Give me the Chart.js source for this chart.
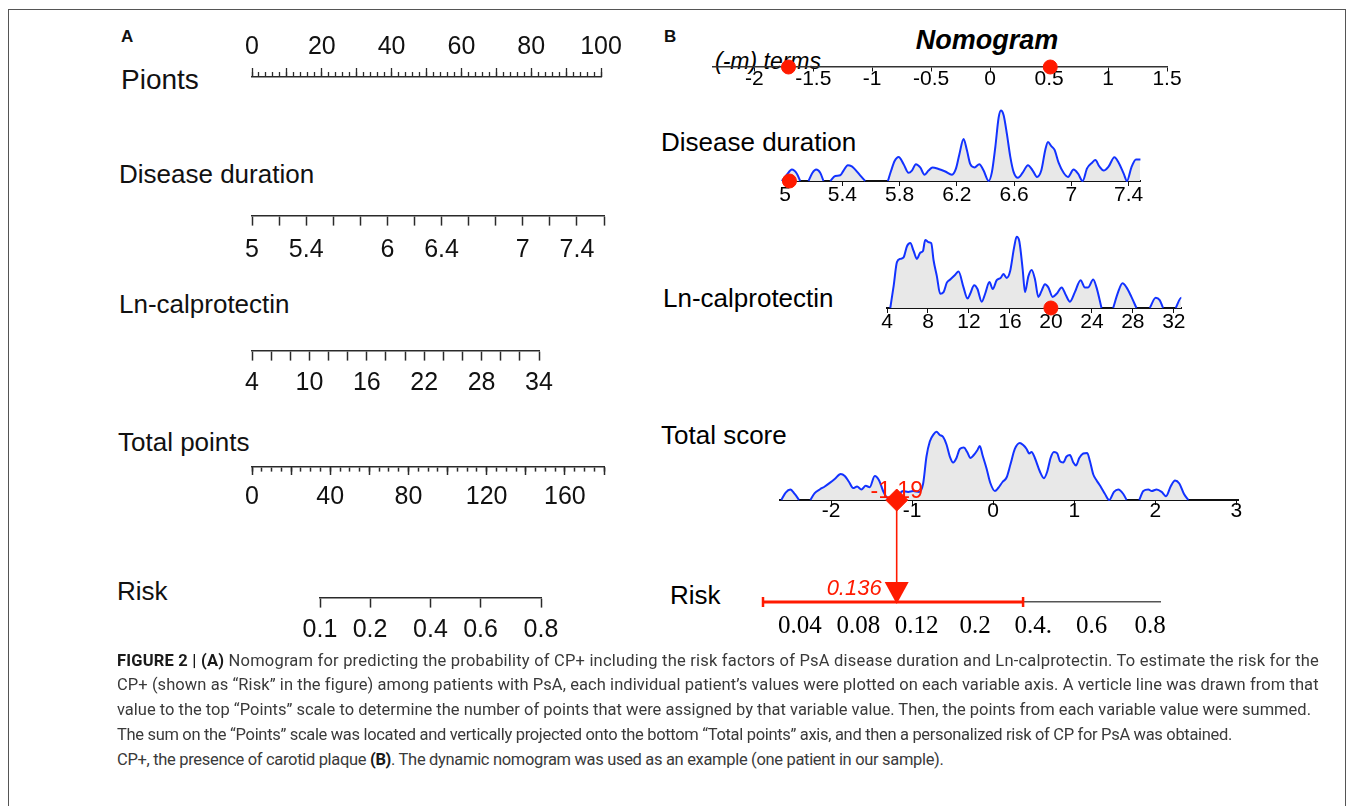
<!DOCTYPE html>
<html>
<head>
<meta charset="utf-8">
<title>Figure 2 - Nomogram</title>
<script src="https://cdn.jsdelivr.net/npm/chart.js@4.4.1/dist/chart.umd.min.js"></script>
<style>
  html, body { margin: 0; padding: 0; background: #fff; }
  body { position: relative; width: 1355px; height: 806px; overflow: hidden;
         font-family: "Liberation Sans", Arial, sans-serif; color: #000; }
  #frame { position: absolute; left: 8px; top: 9px; width: 1338px; height: 900px;
           border: 1px solid #555; box-sizing: border-box; }
  .t { position: absolute; white-space: nowrap; line-height: 1; color: #111; }
  canvas { position: absolute; }
  .cap { position: absolute; left: 117px; white-space: nowrap; line-height: 1;
         font-family: Roboto, "Liberation Sans", sans-serif; font-size: 16.5px; color: #3a3a3a; }
  .cap b { color: #1a1a1a; }
</style>
</head>
<body>
<div id="frame"></div>
<script>
// ---------- values ----------

// Panel A - classic nomogram scales
const pointsRange = [0, 100];
const durRangeA = [5, 7.6];
const durLabelsA = [5, 5.4, 6, 6.4, 7, 7.4];
const calRangeA = [4, 34];
const calLabelsA = [4, 10, 16, 22, 28, 34];
const totalRangeA = [0, 180];
const totalLabelsA = [0, 40, 80, 120, 160];
const riskTicksA = [0.1, 0.2, 0.4, 0.6, 0.8];

// Panel B - dynamic nomogram
const termRange = [-2.35, 1.5];
const termTicks = [-2, -1.5, -1, -0.5, 0, 0.5, 1, 1.5];
const patientTerms = [-1.71, 0.51];

const durRangeB = [4.985, 7.48];
const durTicksB = [5, 5.4, 5.8, 6.2, 6.6, 7, 7.4];
const durDensity = [
  [4.977,0],[5.012,0.067],[5.047,0.12],[5.082,0.077],[5.105,0],[5.134,null],
  [5.163,0],[5.191,0.087],[5.217,0.12],[5.245,0.087],[5.268,0],[5.29,null],
  [5.315,0],[5.35,0.053],[5.385,0.06],[5.408,0.11],[5.438,0.167],[5.466,0.153],[5.49,0.12],[5.524,0.06],[5.559,0],[5.64,null],
  [5.718,0],[5.741,0.11],[5.765,0.21],[5.793,0.253],[5.828,0.177],[5.862,0.087],[5.886,0.11],[5.914,0.177],[5.944,0.143],[5.974,0.067],
  [6.002,0.11],[6.03,0.143],[6.072,0.127],[6.119,0.10],[6.166,0.067],[6.193,0.127],[6.217,0.277],[6.247,0.443],[6.27,0.327],[6.294,0.177],
  [6.324,0.143],[6.357,0.177],[6.387,0.11],[6.422,0],[6.445,0.093],[6.469,0.36],[6.492,0.667],[6.508,0.743],[6.527,0.693],[6.55,0.493],
  [6.573,0.26],[6.597,0.093],[6.627,0.033],[6.66,0.087],[6.697,0.167],[6.73,0.11],[6.76,0.043],[6.79,0.11],[6.818,0.327],[6.837,0.41],
  [6.86,0.367],[6.883,0.327],[6.911,0.193],[6.946,0.087],[6.977,0.043],[7.016,0.12],[7.047,0.077],[7.079,0],[7.11,0.133],[7.145,0.193],
  [7.168,0.22],[7.196,0.153],[7.226,0.11],[7.261,0.153],[7.301,0.25],[7.331,0.193],[7.366,0.077],[7.389,0],[7.42,0.143],[7.452,0.227],
  [7.483,0.227],[7.513,0.093],[7.541,0]
];

const calRangeB = [4, 32.7];
const calTicksB = [4, 8, 12, 16, 20, 24, 28, 32];
const calDensity = [
  [4.32,0],[4.65,0.233],[4.97,0.483],[5.30,0.517],[5.62,0.533],[5.95,0.65],[6.27,0.683],[6.60,0.60],[6.92,0.517],[7.25,0.583],
  [7.51,0.60],[7.73,0.717],[8.06,0.693],[8.32,0.683],[8.55,0.50],[8.87,0.333],[9.19,0.15],[9.52,0.167],[9.84,0.267],[10.17,0.30],
  [10.66,0.35],[10.98,0.383],[11.47,0.217],[11.86,0.10],[12.12,0.15],[12.51,0.24],[12.83,0.20],[13.25,0.067],[13.58,0.15],[14.00,0.273],
  [14.32,0.20],[14.71,0.293],[15.10,0.317],[15.36,0.357],[15.69,0.317],[16.01,0.383],[16.40,0.633],[16.66,0.75],[16.92,0.70],[17.25,0.40],
  [17.47,0.167],[17.80,0.333],[18.12,0.40],[18.45,0.30],[18.77,0.117],[19.10,0.183],[19.42,0.25],[19.75,0.217],[20.17,0.117],[20.56,0.15],
  [21.05,0.217],[21.47,0.133],[21.86,0.067],[22.34,0.167],[22.90,0.293],[23.32,0.217],[23.64,0.217],[24.13,0.30],[24.45,0.217],[24.94,0],
  [25.5,null],[26.08,0],[26.56,0.167],[26.99,0.26],[27.38,0.217],[27.86,0.117],[28.35,0],[29.0,null],
  [29.65,0],[30.23,0.107],[30.62,0.083],[30.95,0],[31.6,null],[32.18,0],[32.73,0.107],[33.16,0.067],[33.55,0]
];

const scoreRange = [-2.63, 3.02];
const scoreTicks = [-2, -1, 0, 1, 2, 3];
const scoreDensity = [
  [-2.613,0],[-2.56,0.083],[-2.502,0.117],[-2.449,0.067],[-2.395,0],[-2.33,null],
  [-2.255,0],[-2.202,0.077],[-2.14,0.117],[-2.078,0.15],[-2.016,0.19],[-1.955,0.233],[-1.881,0.29],[-1.831,0.267],[-1.778,0.2],[-1.728,0.133],
  [-1.679,0.15],[-1.626,0.117],[-1.572,0.157],[-1.523,0.143],[-1.461,0.267],[-1.407,0.217],[-1.358,0.1],[-1.317,0.033],[-1.267,0.01],[-1.214,0.017],
  [-1.16,0.067],[-1.111,0.1],[-1.049,0.09],[-0.988,0.1],[-0.914,0.09],[-0.864,0.183],[-0.823,0.483],[-0.782,0.65],[-0.733,0.733],[-0.70,0.757],
  [-0.658,0.723],[-0.617,0.70],[-0.576,0.617],[-0.535,0.483],[-0.494,0.417],[-0.453,0.467],[-0.412,0.567],[-0.362,0.583],[-0.321,0.533],[-0.28,0.467],
  [-0.239,0.50],[-0.198,0.55],[-0.165,0.60],[-0.132,0.50],[-0.082,0.35],[-0.033,0.183],[0.021,0.10],[0.062,0.133],[0.115,0.20],[0.165,0.25],
  [0.214,0.40],[0.267,0.567],[0.329,0.633],[0.37,0.61],[0.412,0.567],[0.444,0.517],[0.473,0.533],[0.514,0.467],[0.576,0.317],[0.626,0.243],
  [0.667,0.317],[0.708,0.467],[0.749,0.533],[0.79,0.517],[0.823,0.433],[0.864,0.417],[0.905,0.483],[0.947,0.50],[0.988,0.417],[1.021,0.383],
  [1.062,0.467],[1.111,0.517],[1.16,0.523],[1.193,0.433],[1.235,0.283],[1.276,0.217],[1.325,0.15],[1.379,0.067],[1.432,0],[1.49,0.09],
  [1.543,0.117],[1.605,0.067],[1.646,0],[1.72,null],
  [1.802,0],[1.852,0.10],[1.914,0.117],[1.955,0.10],[2.016,0.117],[2.078,0.09],[2.132,0.043],[2.189,0.15],[2.243,0.217],[2.296,0.183],
  [2.354,0.067],[2.407,0]
];

const patientDur = 5.03;
const patientCal = 20;
const patientScore = -1.19;
const patientRisk = 0.136;

const riskRangeB = [-2.84, 2.06];          // total-score units
const riskBand = [-2.84, 0.37];
const riskLabelsB = ['0.04', '0.08', '0.12', '0.2', '0.4.', '0.6', '0.8'];
const riskLabelSpan = [-0.634, 6.171];     // label slots 0..6

// ---------- styling ----------
const SANS = '"Liberation Sans", Arial, sans-serif';
const SERIF = '"Liberation Serif", "Times New Roman", serif';
const INK = '#2a2a2a';
const RED = '#ff1a00';
const BLUE = '#1232ff';
const FILL = '#e8e8e8';
Chart.defaults.font.family = SANS;
Chart.defaults.color = '#111';

const PAD = 48;
const logit = p => Math.log(p / (1 - p));
const has = (arr, v) => arr.some(a => Math.abs(a - v) < 1e-6);

function label(str, x, cy, size, extra) {
  const d = document.createElement('div');
  d.className = 't';
  d.textContent = str;
  d.style.left = x + 'px';
  d.style.top = (cy - size * 0.5) + 'px';
  d.style.fontSize = size + 'px';
  if (extra) Object.assign(d.style, extra);
  document.body.appendChild(d);
  return d;
}

// one canvas per nomogram line; plot area spans exactly the axis
function row(o) {
  const cv = document.createElement('canvas');
  cv.width = Math.round(o.x1 - o.x0) + 2 * PAD;
  cv.height = o.above + o.below;
  cv.style.left = Math.round(o.x0 - PAD) + 'px';
  cv.style.top = (o.base - o.above) + 'px';
  document.body.appendChild(cv);
  return new Chart(cv, {
    type: 'scatter',
    data: { datasets: o.datasets || [] },
    options: {
      responsive: false,
      animation: false,
      events: [],
      layout: { padding: { left: PAD, right: PAD, top: o.above - o.area, bottom: o.below } },
      plugins: { legend: { display: false }, tooltip: { enabled: false } },
      scales: Object.assign({ y: { display: false, min: 0, max: o.ymax || 1 } }, o.scales)
    },
    plugins: o.plugins || []
  });
}

function axisA(range, step, labels, tickLen, pad) {
  return {
    type: 'linear', axis: 'x', position: { y: 0 }, bounds: 'data',
    min: range[0], max: range[1],
    border: { display: true, color: INK, width: 1.6 },
    grid: { drawOnChartArea: false, drawTicks: true, tickLength: tickLen, tickColor: INK, tickWidth: 1.5 },
    ticks: {
      stepSize: step, autoSkip: false, maxRotation: 0, padding: pad,
      font: { size: 25 }, color: '#111',
      callback: v => has(labels, v) ? String(v) : ''
    }
  };
}

// bare tick marks hanging down from a given height (in tick-length units)
function tickLine(range, step, at, len) {
  return {
    type: 'linear', axis: 'x', position: { y: at }, bounds: 'data',
    min: range[0], max: range[1],
    border: { display: false },
    grid: { drawOnChartArea: false, drawTicks: true, tickLength: len, tickColor: INK, tickWidth: 1.3 },
    ticks: { display: false, stepSize: step }
  };
}

function axisB(range, ticks, pad) {
  return {
    type: 'linear', axis: 'x', position: { y: 0 }, bounds: 'data',
    min: range[0], max: range[1],
    afterBuildTicks: s => { s.ticks = ticks.map(v => ({ value: v })); },
    border: { display: true, color: '#111', width: 2 },
    grid: { drawOnChartArea: false, drawTicks: true, tickLength: 4, tickColor: '#111', tickWidth: 1 },
    ticks: { autoSkip: false, maxRotation: 0, padding: pad, font: { size: 21 }, color: '#000',
             callback: v => String(v) }
  };
}

function density(pairs) {
  return {
    data: pairs.map(p => ({ x: p[0], y: p[1] })),
    showLine: true, spanGaps: false,
    borderColor: BLUE, borderWidth: 2,
    backgroundColor: FILL, fill: 'origin',
    pointRadius: 0, cubicInterpolationMode: 'monotone',
    clip: false, order: 2
  };
}

function dot(values, style, radius) {
  return {
    data: values.map(v => ({ x: v, y: 0 })),
    pointStyle: style, pointRadius: radius,
    backgroundColor: RED, borderColor: RED, borderWidth: 1,
    clip: false, order: 1
  };
}

// ---------- frame texts ----------
label('A', 121, 36, 17, { fontWeight: 'bold' });
label('Pionts', 121, 80, 28);
label('Disease duration', 119, 174, 26);
label('Ln-calprotectin', 119, 304, 26);
label('Total points', 118, 442, 26);
label('Risk', 117, 591, 26);

label('B', 664, 36, 17, { fontWeight: 'bold' });
const ttl = label('Nomogram', 0, 40, 27, { fontWeight: 'bold', fontStyle: 'italic', color: '#000' });
ttl.style.left = (987 - ttl.getBoundingClientRect().width / 2) + 'px';
label('(-m) terms', 715, 61, 23, { fontStyle: 'italic', color: '#000' });
label('Disease duration', 661, 142, 26, { color: '#000' });
label('Ln-calprotectin', 663, 298, 26, { color: '#000' });
label('Total score', 661, 435, 26, { color: '#000' });
label('Risk', 670, 595, 26, { color: '#000' });

// ---------- panel A ----------
// Points: numbers above, tick line below
row({ x0: 252, x1: 601, base: 32, area: 4, above: 6, below: 34,
  scales: { x: {
    type: 'linear', axis: 'x', position: { y: 0 }, bounds: 'data',
    min: pointsRange[0], max: pointsRange[1],
    border: { display: false },
    grid: { drawOnChartArea: false, drawTicks: false },
    ticks: { stepSize: 20, autoSkip: false, maxRotation: 0, padding: 0, font: { size: 25 }, color: '#111' }
  } } });

row({ x0: 252, x1: 601, base: 77, area: 9, ymax: 9, above: 11, below: 4,
  scales: {
    x: {
      type: 'linear', axis: 'x', position: { y: 0 }, bounds: 'data',
      min: pointsRange[0], max: pointsRange[1],
      border: { display: true, color: INK, width: 1.6 },
      grid: { drawOnChartArea: false, drawTicks: false },
      ticks: { display: false }
    },
    xMaj: tickLine(pointsRange, 10, 9, 9),
    xMin: tickLine(pointsRange, 2, 5, 5)
  } });

row({ x0: 252, x1: 604, base: 216, area: 4, above: 6, below: 56,
  scales: { x: axisA(durRangeA, 0.2, durLabelsA, 9, 10) } });

row({ x0: 252, x1: 539, base: 351, area: 4, above: 6, below: 56,
  scales: { x: axisA(calRangeA, 2, calLabelsA, 9, 8) } });

const totalMinor = axisA(totalRangeA, 5, [], 4, 0);
totalMinor.ticks.display = false;
const totalMajor = axisA(totalRangeA, 20, totalLabelsA, 8, 7);
totalMajor.border = { display: false };
row({ x0: 252, x1: 604, base: 467, area: 4, above: 6, below: 56,
  scales: { x: totalMinor, xMaj: totalMajor } });

const riskA = axisA([logit(riskTicksA[0]), logit(riskTicksA[riskTicksA.length - 1])], 1, [], 9, 8);
riskA.afterBuildTicks = s => { s.ticks = riskTicksA.map(p => ({ value: logit(p) })); };
riskA.ticks.callback = (v, i) => String(riskTicksA[i]);
row({ x0: 320, x1: 541, base: 598, area: 4, above: 6, below: 56, scales: { x: riskA } });

// ---------- panel B ----------
const termAxis = axisB(termRange, termTicks, -4);
termAxis.border = { display: true, color: '#333', width: 1.5 };
row({ x0: 713, x1: 1167, base: 67, area: 6, above: 14, below: 34,
  scales: { x: termAxis },
  datasets: [dot(patientTerms, 'circle', 7)] });

row({ x0: 783, x1: 1140, base: 181, area: 80, ymax: 0.8, above: 84, below: 34,
  scales: { x: axisB(durRangeB, durTicksB, -2) },
  datasets: [dot([patientDur], 'circle', 7), density(durDensity)] });

row({ x0: 887, x1: 1181, base: 308, area: 80, ymax: 0.8, above: 84, below: 34,
  scales: { x: axisB(calRangeB, calTicksB, -2) },
  datasets: [dot([patientCal], 'circle', 7), density(calDensity)] });

const scoreTag = {
  id: 'scoreTag',
  afterDatasetsDraw(c) {
    const { ctx, scales, chartArea } = c;
    const x = scales.x.getPixelForValue(patientScore);
    ctx.save();
    ctx.fillStyle = RED;
    ctx.font = '23px ' + SANS;
    ctx.textAlign = 'center';
    ctx.textBaseline = 'middle';
    ctx.fillText(patientScore.toFixed(2), x, chartArea.bottom - 8);
    ctx.restore();
  }
};
row({ x0: 780, x1: 1238, base: 500, area: 80, ymax: 0.8, above: 84, below: 34,
  scales: { x: axisB(scoreRange, scoreTicks, -5) },
  datasets: [dot([patientScore], 'rectRot', 11), density(scoreDensity)],
  plugins: [scoreTag] });

const riskArrow = {
  id: 'riskArrow',
  afterDatasetsDraw(c) {
    const { ctx, scales, chartArea } = c;
    const x = scales.x.getPixelForValue(patientScore);
    const yb = chartArea.bottom;
    ctx.save();
    ctx.strokeStyle = RED;
    ctx.fillStyle = RED;
    ctx.lineWidth = 1.6;
    ctx.beginPath();
    ctx.moveTo(x, chartArea.top);
    ctx.lineTo(x, yb - 18);
    ctx.stroke();
    ctx.beginPath();
    ctx.moveTo(x - 12, yb - 20);
    ctx.lineTo(x + 12, yb - 20);
    ctx.lineTo(x, yb + 2);
    ctx.closePath();
    ctx.fill();
    ctx.font = 'italic 22px ' + SANS;
    ctx.textAlign = 'right';
    ctx.textBaseline = 'middle';
    ctx.fillText(String(patientRisk), x - 15, yb - 13);
    ctx.restore();
  }
};
row({ x0: 763, x1: 1160, base: 602, area: 102, above: 104, below: 44,
  scales: {
    x: { type: 'linear', display: false, bounds: 'data', min: riskRangeB[0], max: riskRangeB[1] },
    lab: {
      type: 'linear', axis: 'x', position: { y: 0 }, bounds: 'data',
      min: riskLabelSpan[0], max: riskLabelSpan[1],
      afterBuildTicks: s => { s.ticks = riskLabelsB.map((_, i) => ({ value: i })); },
      border: { display: true, color: '#555', width: 1.5 },
      grid: { drawOnChartArea: false, drawTicks: false },
      ticks: { autoSkip: false, maxRotation: 0, padding: 9, color: '#000',
               font: { family: SERIF, size: 25 }, callback: (v, i) => riskLabelsB[i] }
    }
  },
  datasets: [{
    data: riskBand.map(v => ({ x: v, y: 0 })),
    showLine: true, borderColor: RED, borderWidth: 3,
    pointStyle: 'line', pointRotation: 90, pointRadius: 5,
    pointBorderColor: RED, pointBorderWidth: 2.5, clip: false
  }],
  plugins: [riskArrow] });

// ---------- caption ----------
const capLines = [
  '<b>FIGURE 2 | (A)</b> Nomogram for predicting the probability of CP+ including the risk factors of PsA disease duration and Ln-calprotectin. To estimate the risk for the',
  'CP+ (shown as \u201cRisk\u201d in the figure) among patients with PsA, each individual patient\u2019s values were plotted on each variable axis. A verticle line was drawn from that',
  'value to the top \u201cPoints\u201d scale to determine the number of points that were assigned by that variable value. Then, the points from each variable value were summed.',
  'The sum on the \u201cPoints\u201d scale was located and vertically projected onto the bottom \u201cTotal points\u201d axis, and then a personalized risk of CP for PsA was obtained.',
  'CP+, the presence of carotid plaque <b>(B)</b>. The dynamic nomogram was used as an example (one patient in our sample).'
];
const capRight = [1319, 1318, 1311, 1232];
let spacing = 0;
capLines.forEach((html, i) => {
  const d = document.createElement('div');
  d.className = 'cap';
  d.innerHTML = html;
  d.style.top = (661 + i * 24.75 - 8.5) + 'px';
  document.body.appendChild(d);
  if (i < capRight.length) {
    const w = d.getBoundingClientRect().width;
    spacing = (capRight[i] - 117 - w) / d.textContent.length;
  }
  d.style.letterSpacing = spacing + 'px';
});
</script>
</body>
</html>
